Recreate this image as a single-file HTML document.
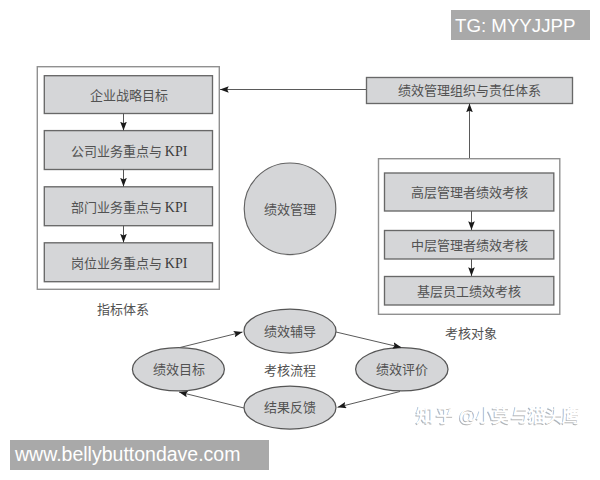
<!DOCTYPE html>
<html lang="zh-CN">
<head>
<meta charset="utf-8">
<style>
html,body{margin:0;padding:0;background:#fff;}
body{width:600px;height:480px;position:relative;overflow:hidden;font-family:"Liberation Serif",serif;}
svg{position:absolute;left:0;top:0;}
.t{font-family:"Liberation Serif",serif;font-size:13px;fill:#525252;}
.k{font-size:14px;fill:#3a3a3a;}
.wm{position:absolute;background:#a9a9a9;color:#fff;font-family:"Liberation Sans",sans-serif;font-size:18px;line-height:30px;white-space:nowrap;}
</style>
</head>
<body>
<svg width="600" height="480" viewBox="0 0 600 480">
<defs>
<marker id="ah" viewBox="0 0 9 7" refX="9" refY="3.4" markerWidth="9" markerHeight="6.8" markerUnits="userSpaceOnUse" orient="auto">
<path d="M0,0 L9,3.4 L0,6.8 L1.6,3.4 z" fill="#1a1a1a"/>
</marker>
<filter id="blr" x="-5%" y="-20%" width="110%" height="140%"><feGaussianBlur stdDeviation="0.5"/></filter>
</defs>
<!-- left outer box -->
<rect x="37.3" y="66.7" width="182" height="222.6" fill="#fff" stroke="#909090" stroke-width="1.4"/>
<rect x="44.3" y="75.7" width="168.2" height="37.8" fill="#d5d6d8" stroke="#686868" stroke-width="1.35"/>
<rect x="44.3" y="130.6" width="168.2" height="38.9" fill="#d5d6d8" stroke="#686868" stroke-width="1.35"/>
<rect x="44.3" y="186.8" width="168.2" height="38.9" fill="#d5d6d8" stroke="#686868" stroke-width="1.35"/>
<rect x="44.3" y="242.8" width="168.2" height="38.9" fill="#d5d6d8" stroke="#686868" stroke-width="1.35"/>
<line x1="123.5" y1="113.5" x2="123.5" y2="130.5" stroke="#555" stroke-width="1" marker-end="url(#ah)"/>
<line x1="123.5" y1="169.5" x2="123.5" y2="186.6" stroke="#555" stroke-width="1" marker-end="url(#ah)"/>
<line x1="123.5" y1="225.7" x2="123.5" y2="242.6" stroke="#555" stroke-width="1" marker-end="url(#ah)"/>
<text class="t" x="128.5" y="100" text-anchor="middle">企业战略目标</text>
<text class="t" x="129" y="156" text-anchor="middle">公司业务重点与 <tspan class="k">KPI</tspan></text>
<text class="t" x="129" y="212" text-anchor="middle">部门业务重点与 <tspan class="k">KPI</tspan></text>
<text class="t" x="129" y="268" text-anchor="middle">岗位业务重点与 <tspan class="k">KPI</tspan></text>
<text class="t" x="122.5" y="314" text-anchor="middle">指标体系</text>

<!-- top right box -->
<rect x="366.5" y="77.5" width="206" height="26" fill="#d5d6d8" stroke="#686868" stroke-width="1.35"/>
<text class="t" x="469.5" y="95" text-anchor="middle">绩效管理组织与责任体系</text>
<line x1="366" y1="89.5" x2="220" y2="89.5" stroke="#5a5a5a" stroke-width="1" marker-end="url(#ah)"/>
<line x1="469.5" y1="159" x2="469.5" y2="103.5" stroke="#5a5a5a" stroke-width="1" marker-end="url(#ah)"/>

<!-- right outer box -->
<rect x="378.5" y="158.7" width="181.3" height="155.6" fill="#fff" stroke="#909090" stroke-width="1.4"/>
<rect x="384.5" y="173" width="169.3" height="38" fill="#d5d6d8" stroke="#686868" stroke-width="1.35"/>
<rect x="384.5" y="230.5" width="169.3" height="28.5" fill="#d5d6d8" stroke="#686868" stroke-width="1.35"/>
<rect x="384.5" y="276.5" width="169.3" height="28.5" fill="#d5d6d8" stroke="#686868" stroke-width="1.35"/>
<line x1="471.5" y1="211" x2="471.5" y2="230" stroke="#555" stroke-width="1" marker-end="url(#ah)"/>
<line x1="471.5" y1="259" x2="471.5" y2="276" stroke="#555" stroke-width="1" marker-end="url(#ah)"/>
<text class="t" x="469" y="197" text-anchor="middle">高层管理者绩效考核</text>
<text class="t" x="469" y="250" text-anchor="middle">中层管理者绩效考核</text>
<text class="t" x="469" y="296" text-anchor="middle">基层员工绩效考核</text>
<text class="t" x="470.5" y="338" text-anchor="middle">考核对象</text>

<!-- center circle -->
<circle cx="290" cy="208.8" r="45.8" fill="#d5d6d8" stroke="#626262" stroke-width="1.15"/>
<text class="t" x="290" y="214" text-anchor="middle">绩效管理</text>

<!-- ellipses -->
<ellipse cx="290" cy="331" rx="46" ry="22" fill="#d5d6d8" stroke="#555" stroke-width="1.25"/>
<ellipse cx="290" cy="407.5" rx="46" ry="21.5" fill="#d5d6d8" stroke="#555" stroke-width="1.25"/>
<ellipse cx="178.4" cy="369.3" rx="46" ry="21.7" fill="#d5d6d8" stroke="#555" stroke-width="1.25"/>
<ellipse cx="401.8" cy="369.3" rx="46.2" ry="21.7" fill="#d5d6d8" stroke="#555" stroke-width="1.25"/>
<text class="t" x="290" y="336" text-anchor="middle">绩效辅导</text>
<text class="t" x="290" y="375" text-anchor="middle">考核流程</text>
<text class="t" x="290" y="412" text-anchor="middle">结果反馈</text>
<text class="t" x="178.5" y="374" text-anchor="middle">绩效目标</text>
<text class="t" x="402" y="374" text-anchor="middle">绩效评价</text>
<line x1="180" y1="347.5" x2="242.5" y2="332" stroke="#5a5a5a" stroke-width="1" marker-end="url(#ah)"/>
<line x1="336" y1="332" x2="401.5" y2="347.5" stroke="#5a5a5a" stroke-width="1" marker-end="url(#ah)"/>
<line x1="400" y1="391.5" x2="337.5" y2="407.3" stroke="#5a5a5a" stroke-width="1" marker-end="url(#ah)"/>
<line x1="244" y1="408" x2="179" y2="392" stroke="#5a5a5a" stroke-width="1" marker-end="url(#ah)"/>

<!-- zhihu watermark -->
<g style="font-family:'Liberation Sans',sans-serif;font-size:17.7px;font-weight:bold;">
<text x="414.5 434.5 450 458 475 491 509.5 526.5 543.5 560.5" y="422.5" fill="#b4b4b4" filter="url(#blr)">知乎 @小莫与猫头鹰</text>
<text x="415.5 435.5 451 459 476 492 510.5 527.5 544.5 561.5" y="421.5" fill="#ffffff">知乎 @小莫与猫头鹰</text>
</g>
</svg>
<div class="wm" style="left:451px;top:10px;width:139px;height:29.5px;"><span style="position:absolute;left:4px;top:1.2px;font-size:18.7px;line-height:29px;">TG: MYYJJPP</span></div>
<div class="wm" style="left:10px;top:440px;width:259px;height:29.5px;"><span style="position:absolute;left:5px;top:0px;font-size:19.5px;line-height:29px;">www.bellybuttondave.com</span></div>
</body>
</html>
